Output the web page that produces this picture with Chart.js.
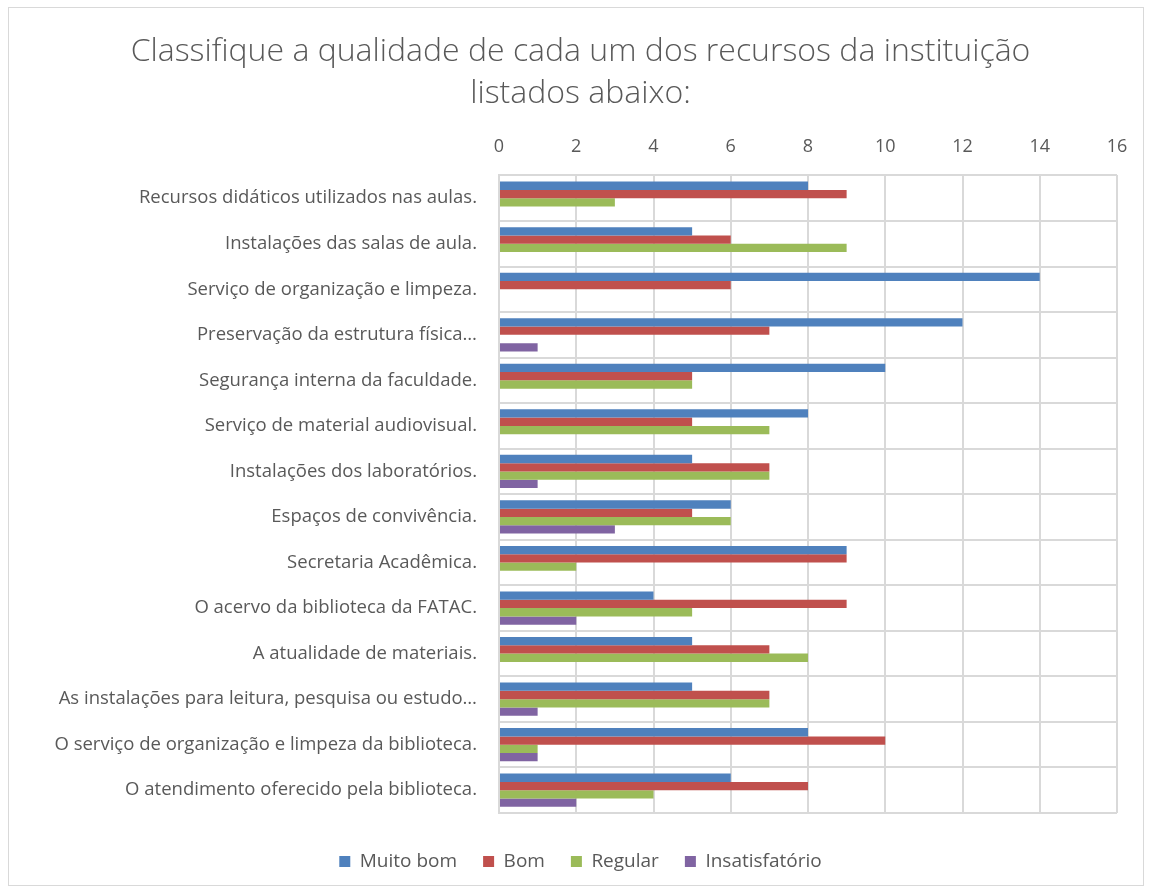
<!DOCTYPE html>
<html>
<head>
<meta charset="utf-8">
<script src="https://cdn.jsdelivr.net/npm/chart.js@4"></script>
<style>
  body { margin: 0; background: #fff; }
  #grafico { display: block; }
</style>
</head>
<body>
<canvas id="grafico" width="1151" height="892"></canvas>
<script>
// Dados do gráfico
const categorias = [
    'Recursos didáticos utilizados nas aulas.',
    'Instalações das salas de aula.',
    'Serviço de organização e limpeza.',
    'Preservação da estrutura física…',
    'Segurança interna da faculdade.',
    'Serviço de material audiovisual.',
    'Instalações dos laboratórios.',
    'Espaços de convivência.',
    'Secretaria Acadêmica.',
    'O acervo da biblioteca da FATAC.',
    'A atualidade de materiais.',
    'As instalações para leitura, pesquisa ou estudo…',
    'O serviço de organização e limpeza da biblioteca.',
    'O atendimento oferecido pela biblioteca.'
];
const muitoBom      = [8, 5, 14, 12, 10, 8, 5, 6, 9, 4, 5, 5, 8, 6];
const bom           = [9, 6, 6, 7, 5, 5, 7, 5, 9, 9, 7, 7, 10, 8];
const regular       = [3, 9, 0, 0, 5, 7, 7, 6, 2, 5, 8, 7, 1, 4];
const insatisfatorio = [0, 0, 0, 1, 0, 0, 1, 3, 0, 2, 0, 1, 1, 2];
const nomesSeries = ['Muito bom', 'Bom', 'Regular', 'Insatisfatório'];
const cores = ['#4F81BD', '#C0504D', '#9BBB59', '#8064A2'];

const corTexto = '#595959';
const corGrade = '#D9D9D9';

// Moldura externa do gráfico
const moldura = {
    id: 'moldura',
    afterDraw(chart) {
        const ctx = chart.ctx;
        ctx.save();
        ctx.strokeStyle = '#D9D9D9';
        ctx.lineWidth = 1;
        ctx.strokeRect(8.5, 7.5, 1135, 878);
        ctx.restore();
    }
};

const series = [muitoBom, bom, regular, insatisfatorio];

const ctx = document.getElementById('grafico').getContext('2d');
const grafico = new Chart(ctx, {
    type: 'bar',
    data: {
        labels: categorias,
        datasets: series.map((valores, i) => ({
            label: nomesSeries[i],
            data: valores,
            backgroundColor: cores[i],
            borderWidth: 0,
            categoryPercentage: 0.73,
            barPercentage: 1.0
        }))
    },
    options: {
        indexAxis: 'y',
        responsive: false,
        animation: false,
        layout: {
            padding: { left: 44, right: 34, top: 0, bottom: 11 }
        },
        plugins: {
            title: {
                display: true,
                text: ['Classifique a qualidade de cada um dos recursos da instituição', 'listados abaixo:'],
                color: corTexto,
                font: { family: 'Open Sans', size: 32, weight: '300', lineHeight: 1.31 },
                padding: { top: 31, bottom: 3 }
            },
            legend: {
                position: 'bottom',
                title: {
                    display: true,
                    text: ' ',
                    font: { size: 10, lineHeight: 1 },
                    padding: 1.5
                },
                labels: {
                    color: corTexto,
                    font: { family: 'Open Sans', size: 19 },
                    boxWidth: 11,
                    boxHeight: 11,
                    padding: 26
                }
            },
            tooltip: { enabled: false }
        },
        scales: {
            x: {
                position: 'top',
                min: 0,
                max: 16,
                ticks: {
                    stepSize: 2,
                    color: corTexto,
                    font: { family: 'Open Sans', size: 18 },
                    padding: 18
                },
                grid: { color: corGrade, lineWidth: 2, drawTicks: false },
                border: { display: false }
            },
            y: {
                ticks: {
                    color: corTexto,
                    font: { family: 'Open Sans', size: 18.5 },
                    padding: 22,
                    autoSkip: false
                },
                grid: { color: corGrade, lineWidth: 2, drawTicks: false, offset: true },
                border: { display: true, color: corGrade, width: 2 },
                afterFit(scale) {
                    scale.width = 499 - 44;
                }
            }
        }
    },
    plugins: [moldura]
});
</script>
</body>
</html>
